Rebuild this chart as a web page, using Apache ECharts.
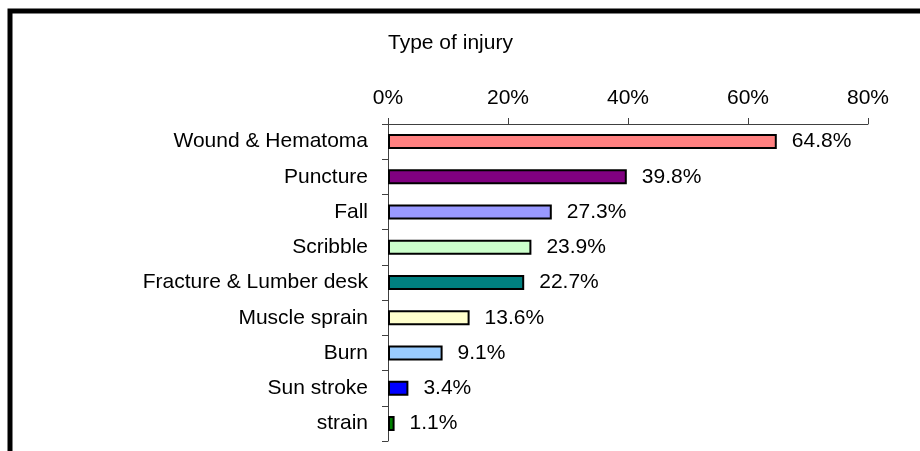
<!DOCTYPE html>
<html>
<head>
<meta charset="utf-8">
<script src="https://cdn.jsdelivr.net/npm/echarts@6/dist/echarts.min.js"></script>
<style>html,body{margin:0;padding:0;background:#fff}#c{width:920px;height:451px}</style>
</head>
<body>
<div id="c"></div>
<script>
const categories = ["Wound & Hematoma","Puncture","Fall","Scribble","Fracture & Lumber desk","Muscle sprain","Burn","Sun stroke","strain"];
const values = [64.8, 39.8, 27.3, 23.9, 22.7, 13.6, 9.1, 3.4, 1.1];
const barColors = ["#FF8080","#800080","#9999FF","#CCFFCC","#008080","#FFFFCC","#99CCFF","#0000FF","#008000"];
const xTicks = [0, 20, 40, 60, 80];

const FONT = "'Liberation Sans', Arial, sans-serif";
const FS = 21;
const chart = echarts.init(document.getElementById('c'));
chart.setOption({
  animation: false,
  backgroundColor: '#fff',
  title: {
    text: 'Type of injury', left: 383, top: 28,
    textStyle: {fontFamily: FONT, fontSize: FS, fontWeight: 'normal', color: '#000'}
  },
  graphic: [{
    type: 'rect', shape: {x: 10, y: 11, width: 1000, height: 1000},
    style: {fill: 'none', stroke: '#000', lineWidth: 5}, silent: true
  }],
  grid: {left: 388, right: 52, top: 124, bottom: 10},
  xAxis: {
    type: 'value', position: 'top', min: xTicks[0], max: xTicks[xTicks.length-1], interval: 20,
    axisLine: {show: true, lineStyle: {color: '#404040', width: 1}},
    axisTick: {show: true, length: 6, lineStyle: {color: '#404040'}},
    splitLine: {show: false},
    axisLabel: {formatter: '{value}%', margin: 15, fontFamily: FONT, fontSize: FS, color: '#000'}
  },
  yAxis: {
    type: 'category', data: categories, inverse: true,
    axisLine: {show: true, lineStyle: {color: '#404040', width: 1}},
    axisTick: {show: true, length: 6, lineStyle: {color: '#404040'}},
    axisLabel: {margin: 20, fontFamily: FONT, fontSize: FS, color: '#000'}
  },
  series: [{
    type: 'bar', barWidth: 15,
    data: values.map((v, i) => ({value: v, itemStyle: {color: barColors[i]}})),
    itemStyle: {borderColor: '#000', borderWidth: 2},
    label: {show: true, position: 'right', distance: 15, formatter: '{c}%', fontFamily: FONT, fontSize: FS, color: '#000'}
  }]
});
</script>
</body>
</html>
